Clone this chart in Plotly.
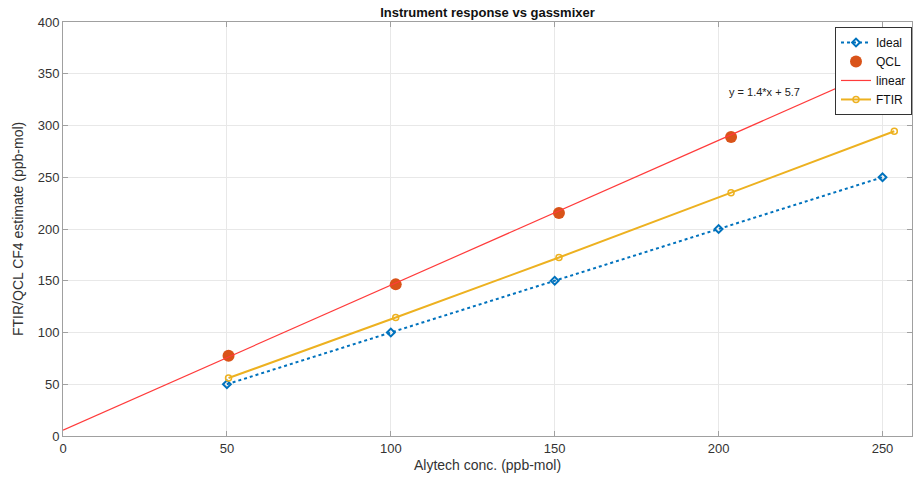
import plotly.graph_objects as go

# Data
ideal_x = [50, 100, 150, 200, 250]
ideal_y = [50, 100, 150, 200, 250]
meas_x = [50.5, 101.5, 151.3, 203.8, 253.6]
qcl_y = [77.5, 146.5, 215.5, 289.0]
qcl_x = meas_x[:4]
ftir_y = [56.0, 114.5, 172.5, 235.0, 294.5]
slope = 1.4
intercept = 5.7
x_range = [0, 259]
linear_x = [x_range[0], x_range[1]]
linear_y = [slope * v + intercept for v in linear_x]
x_ticks = [0, 50, 100, 150, 200, 250]
y_ticks = [0, 50, 100, 150, 200, 250, 300, 350, 400]

FONT = "Liberation Sans, Arial, Helvetica, sans-serif"

fig = go.Figure()
fig.add_trace(go.Scatter(
    x=ideal_x, y=ideal_y, name="Ideal", mode="lines+markers",
    line=dict(color="#0072BD", width=2, dash="dot"),
    marker=dict(symbol="diamond-open", size=6, color="#0072BD", line=dict(width=2)),
))
fig.add_trace(go.Scatter(
    x=qcl_x, y=qcl_y, name="QCL", mode="markers",
    marker=dict(symbol="circle", size=12, color="#D95319"),
))
fig.add_trace(go.Scatter(
    x=linear_x, y=linear_y, name="linear", mode="lines",
    line=dict(color="#FF3B3B", width=1.2),
))
fig.add_trace(go.Scatter(
    x=meas_x, y=ftir_y, name="FTIR", mode="lines+markers",
    line=dict(color="#EDB120", width=2),
    marker=dict(symbol="circle-open", size=6, color="#EDB120", line=dict(width=1.5)),
))

fig.add_annotation(
    x=202.7, y=332.3, text=f"y = {slope}*x + {intercept}", showarrow=False,
    xanchor="left", yanchor="middle", font=dict(size=11, color="#222", family=FONT),
)
fig.add_annotation(
    x=0.5, y=-0.07, xref="paper", yref="paper", text="Alytech conc. (ppb-mol)",
    showarrow=False, xanchor="center", yanchor="middle",
    font=dict(size=14, color="#333", family=FONT),
)
fig.add_annotation(
    x=-0.053, y=0.5, xref="paper", yref="paper", text="FTIR/QCL CF4 estimate (ppb-mol)",
    showarrow=False, xanchor="center", yanchor="middle", textangle=-90,
    font=dict(size=14, color="#333", family=FONT),
)

axis_common = dict(
    showgrid=True, gridcolor="#E8E8E8", gridwidth=1,
    showline=True, linecolor="#A0A0A0", linewidth=1, mirror="ticks",
    ticks="inside", ticklen=5, tickcolor="#A0A0A0", automargin=False,
    zeroline=False, tickfont=dict(size=13, color="#333", family=FONT),
)

fig.update_layout(
    width=913, height=478,
    margin=dict(l=63, r=1, t=22, b=42, autoexpand=False),
    paper_bgcolor="white", plot_bgcolor="white",
    font=dict(family=FONT, color="#333"),
    title=dict(text="<b>Instrument response vs gassmixer</b>", x=0.5, xref="paper", xanchor="center",
               y=1, yref="paper", yanchor="bottom", pad=dict(b=5),
               font=dict(size=13, color="#111", family=FONT)),
    xaxis=dict(range=x_range, tickvals=x_ticks, **axis_common),
    yaxis=dict(range=[0, 400], tickvals=y_ticks, **axis_common),
    legend=dict(x=1, y=0.988, xanchor="right", yanchor="top",
                bgcolor="white", bordercolor="#333", borderwidth=1,
                font=dict(size=12, color="#111", family=FONT),
                tracegroupgap=0, itemwidth=30),
    showlegend=True,
)

fig.write_html("out.html", config={"displayModeBar": False},
               post_script="document.body.style.margin='0';document.body.style.overflow='hidden';")
